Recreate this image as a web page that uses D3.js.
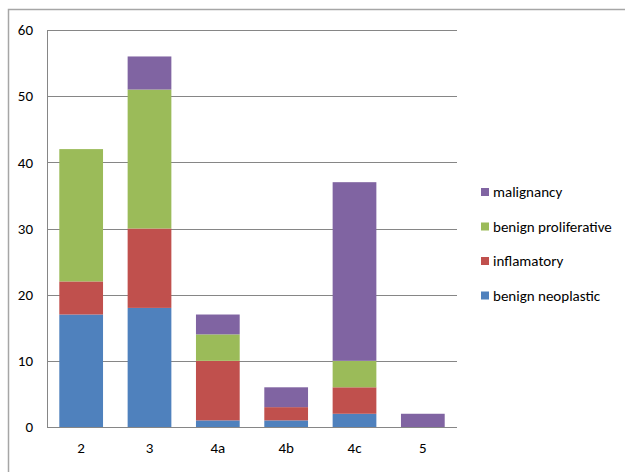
<!DOCTYPE html>
<meta charset="utf-8">
<style>
  body { margin: 0; background: #fff; }
  text { font-family: Carlito, Lato, "DejaVu Sans Condensed", sans-serif; fill: #000; }
</style>
<script src="https://d3js.org/d3.v7.min.js"></script>
<div id="chart"></div>
<script>
  // data
  var categories = ["2", "3", "4a", "4b", "4c", "5"];
  var seriesNames = ["benign neoplastic", "inflamatory", "benign proliferative", "malignancy"];
  var benignNeoplastic = [17, 18, 1, 1, 2, 0];
  var inflamatory = [5, 12, 9, 2, 4, 0];
  var benignProliferative = [20, 21, 4, 0, 4, 0];
  var malignancy = [0, 5, 3, 3, 27, 2];
  var yTicks = [0, 10, 20, 30, 40, 50, 60];

  var colors = ["#4f81bd", "#c0504d", "#9bbb59", "#8064a2"];

  var rows = categories.map(function (c, i) {
    return {
      cat: c,
      "benign neoplastic": benignNeoplastic[i],
      "inflamatory": inflamatory[i],
      "benign proliferative": benignProliferative[i],
      "malignancy": malignancy[i]
    };
  });

  var W = 625, H = 472;
  var svg = d3.select("#chart").append("svg")
    .attr("width", W).attr("height", H);

  // outer chart border
  svg.append("path")
    .attr("d", "M8.5," + H + "V9.5H" + W)
    .attr("fill", "none")
    .attr("stroke", "#a6a6a6")
    .attr("stroke-width", 1.5);

  var plotLeft = 47, plotRight = 457, plotTop = 30, plotBottom = 427;

  var x = d3.scaleBand().domain(categories).range([plotLeft, plotRight]).paddingInner(0.36).paddingOuter(0.18);
  var y = d3.scaleLinear().domain([0, 60]).range([plotBottom, plotTop]);

  // gridlines
  svg.append("g")
    .selectAll("line").data(yTicks).enter().append("line")
    .attr("x1", plotLeft).attr("x2", plotRight)
    .attr("y1", function (d) { return Math.round(y(d)) + 0.5; })
    .attr("y2", function (d) { return Math.round(y(d)) + 0.5; })
    .attr("stroke", "#868686");

  // y axis line
  svg.append("line")
    .attr("x1", plotLeft + 0.5).attr("x2", plotLeft + 0.5)
    .attr("y1", plotTop).attr("y2", plotBottom)
    .attr("stroke", "#868686");

  var stack = d3.stack().keys(seriesNames)(rows);

  svg.append("g").selectAll("g").data(stack).enter().append("g")
    .attr("fill", function (d, i) { return colors[i]; })
    .selectAll("rect").data(function (d) { return d; }).enter().append("rect")
    .attr("x", function (d) { return x(d.data.cat); })
    .attr("width", x.bandwidth())
    .attr("y", function (d) { return y(d[1]); })
    .attr("height", function (d) { return y(d[0]) - y(d[1]); });

  // axis line at zero on top of bars
  svg.append("line")
    .attr("x1", plotLeft).attr("x2", plotRight)
    .attr("y1", plotBottom + 0.5).attr("y2", plotBottom + 0.5)
    .attr("stroke", "#868686");

  // y tick labels
  var yAxis = svg.append("g")
    .attr("transform", "translate(" + plotLeft + ",0)")
    .call(d3.axisLeft(y).tickValues(yTicks).tickSize(0).tickPadding(14));
  yAxis.select(".domain").remove();
  yAxis.selectAll("text").style("font-size", "15px").style("font-family", null);

  // x tick labels
  var xAxis = svg.append("g")
    .attr("transform", "translate(0," + plotBottom + ")")
    .call(d3.axisBottom(x).tickSize(0).tickPadding(15));
  xAxis.select(".domain").remove();
  xAxis.selectAll("text").style("font-size", "15px").style("font-family", null);

  // legend (reverse order, like the reference)
  var legend = svg.append("g");
  var legendItems = seriesNames.slice().reverse();
  legendItems.forEach(function (name, i) {
    var cy = 192 + i * 34.5;
    legend.append("rect")
      .attr("x", 481).attr("y", cy - 4)
      .attr("width", 8).attr("height", 8)
      .attr("fill", colors[seriesNames.indexOf(name)]);
    legend.append("text")
      .attr("x", 493).attr("y", cy)
      .attr("dy", "0.35em")
      .style("font-size", "15px")
      .text(name);
  });
</script>
